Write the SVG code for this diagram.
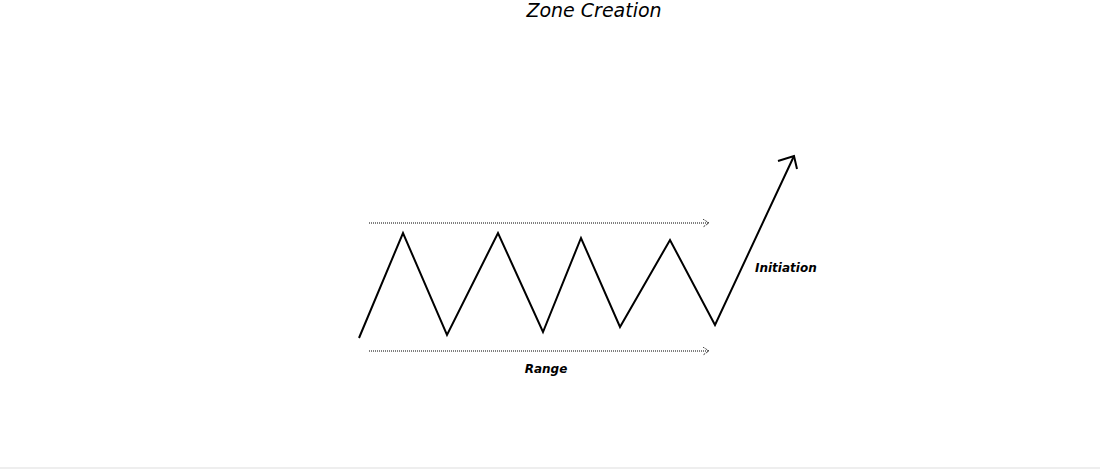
<svg xmlns="http://www.w3.org/2000/svg" width="1100" height="469" viewBox="0 0 1100 469">
<style>
.lbl{font-family:"DejaVu Sans",sans-serif;font-style:italic;fill:#000}
.dot{stroke:#000;stroke-width:1;stroke-dasharray:1 1;fill:none}
</style>
<defs>
<marker id="chev" markerWidth="10" markerHeight="10" refX="8" refY="4" orient="auto" markerUnits="userSpaceOnUse">
<path d="M2,0 L8,4 L2,8" fill="none" stroke="#000" stroke-width="1" stroke-dasharray="1 1"/>
</marker>
</defs>
<rect width="1100" height="469" fill="#fff"/>
<line x1="0" y1="468" x2="1100" y2="468" stroke="#ddd" stroke-width="1"/>
<text class="lbl" x="594" y="17" font-size="19" text-anchor="middle">Zone Creation</text>
<g id="connectors">
<line class="dot" x1="369" y1="223" x2="709" y2="223" marker-end="url(#chev)"/>
<line class="dot" x1="369" y1="351" x2="709" y2="351" marker-end="url(#chev)"/>
<polyline points="359,338 403,233 447,335 498,233 543,332 581,238 620,327 670,240 715,325 794,156" fill="none" stroke="#000" stroke-width="2" stroke-linejoin="miter"/>
<polyline points="778,161 794,156 797,169" fill="none" stroke="#000" stroke-width="2"/>
</g>
<g id="range"><text class="lbl" x="546" y="373" font-size="12" font-weight="bold" text-anchor="middle">Range</text></g>
<g id="initiation"><text class="lbl" x="755" y="272" font-size="12" font-weight="bold">Initiation</text></g>
</svg>
